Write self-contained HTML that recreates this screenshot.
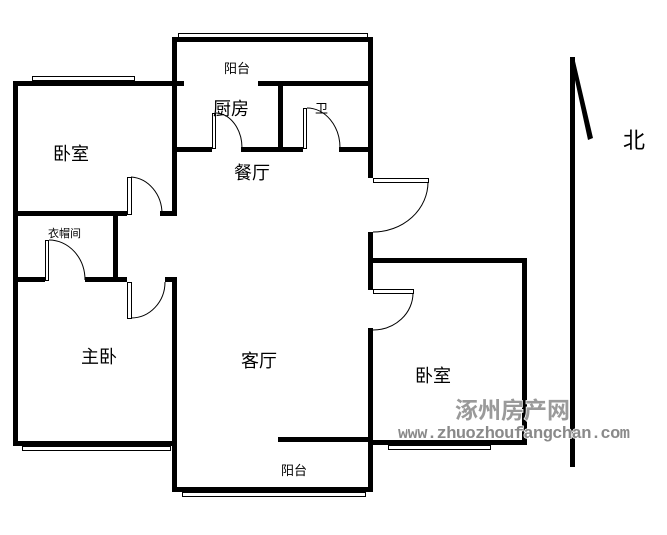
<!DOCTYPE html>
<html><head><meta charset="utf-8"><style>
html,body{margin:0;padding:0;background:#fff;}
svg{display:block;}
text{font-family:"Liberation Sans","Noto Sans CJK SC",sans-serif;fill:#000;}
</style></head><body>
<svg width="667" height="535" viewBox="0 0 667 535" xmlns="http://www.w3.org/2000/svg">
<g fill="none" stroke="#000" stroke-width="1">
<rect x="178.5" y="33.5" width="189" height="4"/>
<line x1="183" y1="39.5" x2="365" y2="39.5"/>
<rect x="32.5" y="76.5" width="102" height="4"/>
<line x1="38" y1="82.5" x2="130" y2="82.5"/>
<line x1="290" y1="82.5" x2="360" y2="82.5"/>
<rect x="22.5" y="446.5" width="148" height="4"/>
<rect x="388.5" y="445.5" width="102" height="4"/>
<rect x="182.5" y="492.5" width="183" height="4"/>
<rect x="127.5" y="177.5" width="4" height="37"/>
<path d="M131 177 A33 37 0 0 1 162 214"/>
<rect x="212.5" y="113.5" width="3" height="35"/>
<path d="M216 113 A27 35 0 0 1 242 148"/>
<rect x="303.5" y="108.5" width="3" height="40"/>
<path d="M307 108 A33 40 0 0 1 340 148"/>
<rect x="45.5" y="240.5" width="3" height="40"/>
<path d="M49 240 A36 40 0 0 1 85 280"/>
<rect x="127.5" y="282.5" width="4" height="36"/>
<path d="M131 318 A34 36 0 0 0 165 282"/>
<rect x="373.5" y="178.5" width="55" height="4"/>
<path d="M428 182 A55 50 0 0 1 373 232"/>
<rect x="373.5" y="289.5" width="40" height="4"/>
<path d="M413 293 A40 37 0 0 1 373 330"/>
</g>
<g fill="#000">
<rect x="172" y="37" width="201" height="5"/>
<rect x="172" y="37" width="5" height="179"/>
<rect x="368" y="37" width="5" height="141"/>
<rect x="13" y="81" width="171" height="5"/>
<rect x="258" y="81" width="115" height="5"/>
<rect x="278" y="81" width="5" height="71"/>
<rect x="172" y="147" width="40" height="5"/>
<rect x="241" y="147" width="62" height="5"/>
<rect x="339" y="147" width="34" height="5"/>
<rect x="13" y="81" width="5" height="365"/>
<rect x="13" y="211" width="114" height="5"/>
<rect x="160" y="211" width="17" height="5"/>
<rect x="113" y="211" width="5" height="71"/>
<rect x="13" y="277" width="32" height="5"/>
<rect x="85" y="277" width="42" height="5"/>
<rect x="165" y="277" width="12" height="5"/>
<rect x="172" y="277" width="5" height="215"/>
<rect x="13" y="441" width="164" height="5"/>
<rect x="172" y="487" width="201" height="5"/>
<rect x="368" y="232" width="5" height="58"/>
<rect x="368" y="328" width="5" height="164"/>
<rect x="278" y="437" width="95" height="5"/>
<rect x="368" y="258" width="159" height="5"/>
<rect x="522" y="258" width="5" height="187"/>
<rect x="368" y="440" width="159" height="5"/>
<rect x="570" y="57" width="5" height="410"/>
<polygon points="570,57 574,57 593,138 588,140"/>
</g>
<g font-size="18">
<text x="213" y="115">厨房</text>
<text x="53" y="160">卧室</text>
<text x="234" y="179">餐厅</text>
<text x="81" y="363">主卧</text>
<text x="241" y="367">客厅</text>
<text x="415" y="382">卧室</text>
</g>
<g font-size="13">
<text x="224" y="73">阳台</text>
<text x="315" y="113">卫</text>
<text x="281" y="475">阳台</text>
</g>
<text x="48" y="237" font-size="11">衣帽间</text>
<text x="623" y="148" font-size="22">北</text>
<text x="455" y="418" font-size="23" font-weight="bold" style="fill:#9a9a9a;stroke:#fff;stroke-width:1.5;paint-order:stroke;">涿州房产网</text>
<text x="398" y="438" font-size="17" font-weight="bold" textLength="232" style="fill:#8a8a8a;stroke:#fff;stroke-width:1.5;paint-order:stroke;font-family:'Liberation Mono',monospace;">www.zhuozhoufangchan.com</text>
</svg>
</body></html>
